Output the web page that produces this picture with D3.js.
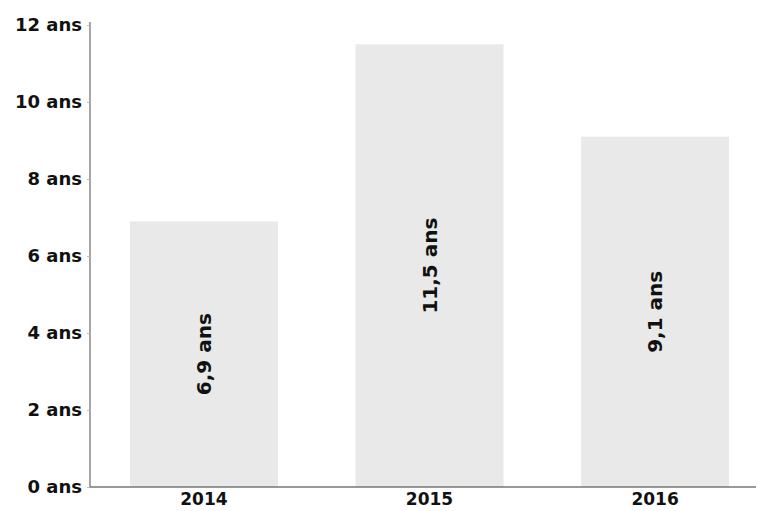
<!DOCTYPE html>
<html>
<head>
<meta charset="utf-8">
<script src="https://cdn.jsdelivr.net/npm/d3@7"></script>
<style>
  html, body { margin: 0; padding: 0; background: #fff; }
  svg { display: block; }
  text { font-family: "DejaVu Sans", "Liberation Sans", Arial, sans-serif; font-weight: bold; fill: #111; }
</style>
</head>
<body>
<svg id="chart" width="760" height="511"></svg>
<script>
// Durée moyenne par année
const years = ["2014", "2015", "2016"];
const values = [6.9, 11.5, 9.1];
const yTicks = [0, 2, 4, 6, 8, 10, 12];

const svg = d3.select("#chart");
const W = 760, H = 511;
const mLeft = 90, mTop = 25, mBottom = 24;
const FONT = "'DejaVu Sans', 'Liberation Sans', Arial, sans-serif";

const x = d3.scaleBand()
  .domain(years)
  .range([mLeft, 769])
  .paddingInner(0.344)
  .paddingOuter(0.177);

const y = d3.scaleLinear()
  .domain([0, 12])
  .range([H - mBottom, mTop]);

const fmt = v => d3.format(".1f")(v).replace(".", ",") + " ans";

// Barres
svg.append("g")
  .selectAll("rect")
  .data(values)
  .join("rect")
  .attr("x", (d, i) => x(years[i]))
  .attr("width", x.bandwidth())
  .attr("y", d => y(d))
  .attr("height", d => y(0) - y(d))
  .attr("fill", "#e9e9e9");

// Étiquettes de valeur, verticales et centrées dans chaque barre
svg.append("g")
  .selectAll("text")
  .data(values)
  .join("text")
  .attr("transform", (d, i) => {
    const cx = x(years[i]) + x.bandwidth() / 2;
    const cy = (y(d) + y(0)) / 2;
    return `translate(${cx},${cy}) rotate(-90)`;
  })
  .attr("text-anchor", "middle")
  .attr("dy", "0.36em")
  .style("font-size", "20px")
  .style("font-family", FONT)
  .style("font-weight", "bold")
  .text(d => fmt(d));

// Axe Y
const yAxis = d3.axisLeft(y)
  .tickValues(yTicks)
  .tickSize(3)
  .tickPadding(5)
  .tickFormat(d => d + " ans");
const gy = svg.append("g")
  .attr("transform", `translate(${mLeft},0)`)
  .call(yAxis);
gy.select(".domain").attr("stroke", "#888").attr("stroke-width", 1.5)
  .attr("d", `M0,${mTop - 3}V${y(0)}`);
gy.selectAll(".tick line").attr("stroke", "#bbb");
gy.selectAll(".tick text")
  .style("font-size", "18px")
  .style("font-family", FONT)
  .style("font-weight", "bold")
  .attr("fill", "#111");

// Axe X
const xAxis = d3.axisBottom(x).tickSize(0).tickPadding(6);
const gx = svg.append("g")
  .attr("transform", `translate(0,${y(0)})`)
  .call(xAxis);
gx.select(".domain").attr("stroke", "#777").attr("stroke-width", 1.5)
  .attr("d", `M${mLeft},0H${W - 4}`);
gx.selectAll(".tick text")
  .style("font-size", "17px")
  .style("font-family", FONT)
  .style("font-weight", "bold")
  .attr("fill", "#111");
</script>
</body>
</html>
